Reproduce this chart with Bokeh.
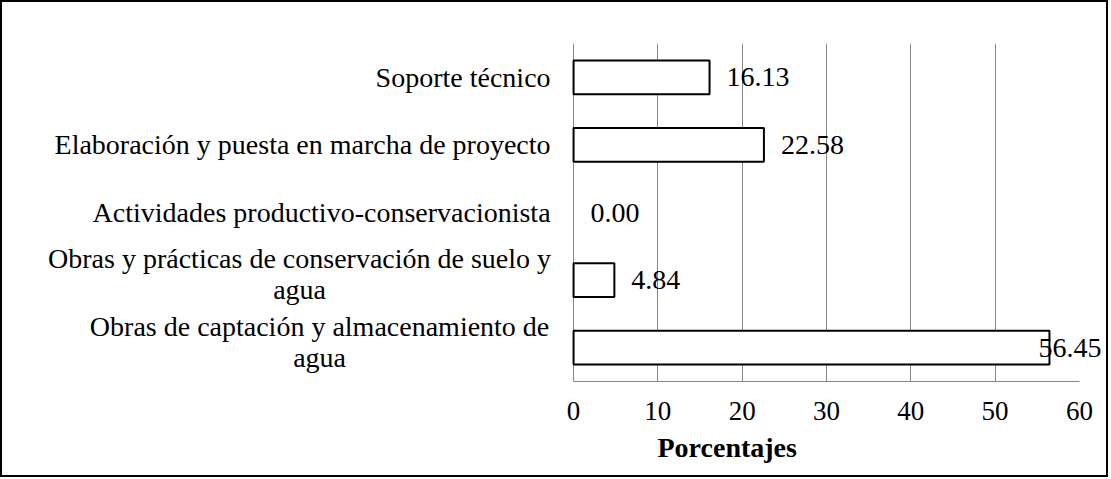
from bokeh.plotting import figure
from bokeh.models import ColumnDataSource, Range1d, FactorRange, FixedTicker, Title
from bokeh.core.properties import value
from bokeh.embed import file_html
from bokeh.resources import INLINE

# ---- data (bottom to top) ----
categories = [
    "Obras de captación y almacenamiento de agua",
    "Obras y prácticas de conservación de suelo y agua",
    "Actividades productivo-conservacionista",
    "Elaboración y puesta en marcha de proyecto",
    "Soporte técnico",
]
category_labels = [
    "Obras de captación y almacenamiento de\nagua",
    "Obras y prácticas de conservación de suelo y\nagua",
    "Actividades productivo-conservacionista",
    "Elaboración y puesta en marcha de proyecto",
    "Soporte técnico",
]
values = [56.45, 4.84, 0.00, 22.58, 16.13]
x_ticks = [0, 10, 20, 30, 40, 50, 60]
grid_ticks = [0, 10, 20, 30, 40, 50]
axis_title = "Porcentajes"

FONT = "Liberation Serif"
GRID = "#868686"

# ---- layout (pixels) ----
W, H, BORDER = 1108, 477, 2
PLOT_LEFT_PX = 569          # from inner left edge of the chart box to the value 0
PX_PER_UNIT = 504 / (x_ticks[-1] - x_ticks[0])
inner_w = W - 2 * BORDER
x_start = -PLOT_LEFT_PX / PX_PER_UNIT
x_end = (inner_w - PLOT_LEFT_PX) / PX_PER_UNIT
TOP, FRAME_H = 41, 334

value_offsets = [-11, 17, 17, 17, 17]
cat_offsets = [-254, -274, -23, -23, -23]

bars = ColumnDataSource(dict(
    cat=categories,
    val=values,
    lalpha=[1.0 if v > 0 else 0.0 for v in values],
    zero=[0] * len(values),
    txt=[f"{v:.2f}" for v in values],
    voff=value_offsets,
))
one_line = [i for i, l in enumerate(category_labels) if "\n" not in l]
two_line = [i for i, l in enumerate(category_labels) if "\n" in l]
lab1 = ColumnDataSource(dict(cat=[categories[i] for i in one_line],
                             lab=[category_labels[i] for i in one_line],
                             zero=[0] * len(one_line),
                             off=[cat_offsets[i] for i in one_line]))
lab2 = ColumnDataSource(dict(cat=[categories[i] for i in two_line],
                             lab=[category_labels[i] for i in two_line],
                             zero=[0] * len(two_line),
                             off=[cat_offsets[i] for i in two_line]))

p = figure(
    width=W, height=H,
    y_range=FactorRange(*categories),
    x_range=Range1d(x_start, x_end),
    output_backend="svg", toolbar_location=None,
    min_border_left=0, min_border_right=0,
    min_border_top=TOP, min_border_bottom=H - 2 * BORDER - TOP - FRAME_H,
)
p.styles = {"border": f"{BORDER}px solid black"}
p.outline_line_color = None
p.background_fill_color = "white"
p.border_fill_color = "white"

p.hbar(y="cat", left="zero", right="val", height=0.5, source=bars,
       fill_color="white", line_color="black", line_width=2, line_alpha="lalpha")

# axes
p.yaxis.visible = False
p.ygrid.visible = False
xa = p.xaxis[0]
xa.ticker = FixedTicker(ticks=x_ticks)
xa.bounds = (x_ticks[0], x_ticks[-1])
xa.major_tick_line_color = None
xa.minor_tick_line_color = None
xa.axis_line_color = GRID
xa.axis_line_width = 1
xa.major_label_text_font = FONT
xa.major_label_text_font_size = "27px"
xa.major_label_text_color = "black"
xa.major_label_standoff = 14

p.add_layout(Title(text=axis_title, align="left", offset=655,
                   text_font=FONT, text_font_size="28px", text_font_style="bold",
                   text_color="black", standoff=14), "below")

p.xgrid.ticker = FixedTicker(ticks=grid_ticks)
p.xgrid.grid_line_color = GRID
p.xgrid.grid_line_width = 1

# value labels
p.text(x="val", y="cat", text="txt", x_offset="voff", source=bars,
       text_align="left", text_baseline="middle",
       text_font=value(FONT), text_font_size="28px", text_color="black")

# category labels
p.text(x="zero", y="cat", text="lab", x_offset="off", source=lab1,
       text_align="right", text_baseline="middle",
       text_font=value(FONT), text_font_size="28px", text_color="black")
p.text(x="zero", y="cat", text="lab", x_offset="off", y_offset=-6, source=lab2,
       text_align="center", text_baseline="middle", text_line_height=1.0,
       text_font=value(FONT), text_font_size="28px", text_color="black")

open("out.html", "w").write(file_html(p, INLINE))
